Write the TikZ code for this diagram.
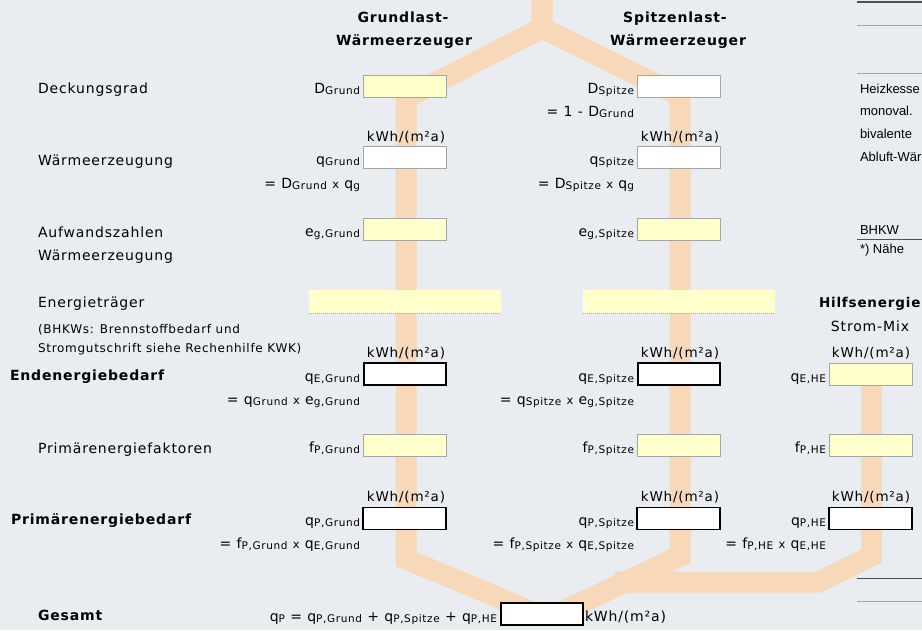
\documentclass[tikz,border=0pt]{standalone}
\usepackage{fontspec}
\setmainfont{DejaVu Sans}[LetterSpace=6]
\newfontfamily\arialfont{Liberation Sans}
\definecolor{bg}{RGB}{233,237,241}
\definecolor{band}{RGB}{247,216,184}
\definecolor{yfill}{RGB}{255,255,204}
\definecolor{gborder}{RGB}{165,165,165}
\definecolor{dline}{RGB}{80,80,80}
\newcommand\sbx[1]{\raisebox{-1.5pt}{\fontsize{10.5}{10.5}\selectfont #1}}
\newcommand\tms{{\fontsize{11.5}{11.5}\selectfont x}}
\begin{document}
\begin{tikzpicture}[x=1pt,y=-1pt,
  every node/.style={inner sep=0pt,outer sep=0pt},
  ybox/.style={draw=gborder,fill=yfill,line width=1pt,minimum width=83pt,minimum height=22pt},
  wbox/.style={draw=gborder,fill=white,line width=1pt,minimum width=83pt,minimum height=22pt},
  kbox/.style={draw=black,fill=white,line width=1.2pt,minimum width=83pt,minimum height=22pt},
  tbox/.style={draw=black,fill=white,line width=2pt,minimum width=82pt,minimum height=22pt},
  etbar/.style={fill=yfill,minimum width=192pt,minimum height=23pt},
  bandline/.style={band,line width=21pt,line join=miter},
  txt/.style={font=\fontsize{14}{16}\selectfont},
  btxt/.style={font=\fontsize{14}{16}\selectfont\bfseries},
  stxt/.style={font=\fontsize{12}{14}\selectfont},
  rtxt/.style={font=\arialfont\fontsize{13}{15}\selectfont,anchor=base west},
  lab/.style={txt,anchor=base east},
  unit/.style={font=\fontsize{13.5}{16}\selectfont,anchor=base}
]
\useasboundingbox (0,0) rectangle (922,630);
\fill[bg] (0,0) rectangle (922,630);
% band coordinates
\coordinate (btop) at (542,-5);
\coordinate (bsplit) at (542,28);
\coordinate (bL1) at (406,98);
\coordinate (bL2) at (406,559);
\coordinate (bLend) at (535,613);
\coordinate (bR1) at (680,96);
\coordinate (bR2) at (680,556);
\coordinate (bRend) at (555,615);
\coordinate (bH1) at (871.5,380);
\coordinate (bH2) at (871.5,556);
\coordinate (bH3) at (819,582);
\coordinate (bH4) at (615,582);
\begin{scope}
\clip (0,0) rectangle (922,630);
\draw[bandline] (btop) -- (bsplit) -- (bL1) -- (bL2) -- (bLend);
\draw[bandline] (bsplit) -- (bR1) -- (bR2) -- (bRend);
\draw[bandline] (bH1) -- (bH2) -- (bH3) -- (bH4);
\end{scope}
% titles
\node[btxt,anchor=base] (t1a) at (403,22) {Grundlast-};
\node[btxt,anchor=base] (t1b) at (404,45) {Wärmeerzeuger};
\node[btxt,anchor=base] (t2a) at (675,22) {Spitzenlast-};
\node[btxt,anchor=base] (t2b) at (678,45) {Wärmeerzeuger};
% left labels
\node[txt,anchor=base west] (l1) at (38,93) {Deckungsgrad};
\node[txt,anchor=base west] (l2) at (38,165) {Wärmeerzeugung};
\node[txt,anchor=base west] (l3a) at (38,237) {Aufwandszahlen};
\node[txt,anchor=base west] (l3b) at (38,260) {Wärmeerzeugung};
\node[txt,anchor=base west] (l4) at (38,307) {Energieträger};
\node[stxt,anchor=base west] (l4a) at (38,333) {(BHKWs: Brennstoffbedarf und};
\node[stxt,anchor=base west] (l4b) at (38,352) {Stromgutschrift siehe Rechenhilfe KWK)};
\node[btxt,anchor=base west] (l5) at (10,380) {Endenergiebedarf};
\node[txt,anchor=base west] (l6) at (38,453) {Primärenergiefaktoren};
\node[btxt,anchor=base west] (l7) at (11,524) {Primärenergiebedarf};
\node[btxt,anchor=base west] (l8) at (38,620) {Gesamt};
% Grund column
\node[ybox] (dG) at (404.5,86.5) {};
\node[wbox] (qG) at (404.5,157.5) {};
\node[ybox] (eG) at (404.5,229.5) {};
\node[etbar] (etG) at (405,301.5) {};
\node[tbox] (qEG) at (404.5,374) {};
\node[ybox] (fG) at (404.5,445.5) {};
\node[kbox] (qPG) at (404.5,518.5) {};
% Spitze column
\node[wbox] (dS) at (678.5,86.5) {};
\node[wbox] (qS) at (678.5,157.5) {};
\node[ybox] (eS) at (678.5,229.5) {};
\node[etbar] (etS) at (679,301.5) {};
\node[tbox] (qES) at (678.5,374) {};
\node[ybox] (fS) at (678.5,445.5) {};
\node[kbox] (qPS) at (678.5,518.5) {};
% HE column
\node[ybox] (qEH) at (870.5,374) {};
\node[ybox] (fH) at (870.5,445.5) {};
\node[kbox] (qPH) at (870.5,518.5) {};
% total
\node[tbox] (qP) at (541.5,614) {};
% dotted bottoms of Energietraeger bars
\draw[gborder,densely dotted,line width=1pt] (etG.south west) -- (etG.south east);
\draw[gborder,densely dotted,line width=1pt] (etS.south west) -- (etS.south east);
% symbol labels
\node[lab] (sdG) at (360,93) {D\sbx{Grund}};
\node[lab] (sqG) at (360,164) {q\sbx{Grund}};
\node[lab] (seG) at (360,236) {e\sbx{g,Grund}};
\node[lab] (sqEG) at (360,381) {q\sbx{E,Grund}};
\node[lab] (sfG) at (360,452) {f\sbx{P,Grund}};
\node[lab] (sqPG) at (360,525) {q\sbx{P,Grund}};
\node[lab] (sdS) at (634,93) {D\sbx{Spitze}};
\node[lab] (sqS) at (634,164) {q\sbx{Spitze}};
\node[lab] (seS) at (634,236) {e\sbx{g,Spitze}};
\node[lab] (sqES) at (634,381) {q\sbx{E,Spitze}};
\node[lab] (sfS) at (634,452) {f\sbx{P,Spitze}};
\node[lab] (sqPS) at (634,525) {q\sbx{P,Spitze}};
\node[lab] (sqEH) at (826,381) {q\sbx{E,HE}};
\node[lab] (sfH) at (826,452) {f\sbx{P,HE}};
\node[lab] (sqPH) at (826,525) {q\sbx{P,HE}};
% formulas
\node[lab] (f1) at (634,116) {= 1 - D\sbx{Grund}};
\node[lab] (f2) at (360,188) {= D\sbx{Grund} \tms{} q\sbx{g}};
\node[lab] (f3) at (634,188) {= D\sbx{Spitze} \tms{} q\sbx{g}};
\node[lab] (f4) at (360,404) {= q\sbx{Grund} \tms{} e\sbx{g,Grund}};
\node[lab] (f5) at (634,404) {= q\sbx{Spitze} \tms{} e\sbx{g,Spitze}};
\node[lab] (f6) at (360,548) {= f\sbx{P,Grund} \tms{} q\sbx{E,Grund}};
\node[lab] (f7) at (634,548) {= f\sbx{P,Spitze} \tms{} q\sbx{E,Spitze}};
\node[lab] (f8) at (826,548) {= f\sbx{P,HE} \tms{} q\sbx{E,HE}};
\node[lab] (f9) at (497,621) {q\sbx{P} = q\sbx{P,Grund} + q\sbx{P,Spitze} + q\sbx{P,HE}};
% units
\node[unit] (u1) at (406,141) {kWh/(m²a)};
\node[unit] (u2) at (680,141) {kWh/(m²a)};
\node[unit] (u3) at (406,357) {kWh/(m²a)};
\node[unit] (u4) at (680,357) {kWh/(m²a)};
\node[unit] (u5) at (871,357) {kWh/(m²a)};
\node[unit] (u6) at (406,501) {kWh/(m²a)};
\node[unit] (u7) at (680,501) {kWh/(m²a)};
\node[unit] (u8) at (871,501) {kWh/(m²a)};
\node[txt,anchor=base west] (u9) at (585,621) {kWh/(m²a)};
% Hilfsenergie
\node[font=\fontsize{13.5}{16}\selectfont\bfseries,anchor=base west] (hE) at (819,307) {Hilfsenergie};
\node[txt,anchor=base] (hM) at (870,331) {Strom-Mix};
% right side table fragment
\draw[dline,line width=1.5pt] (857,2) -- (922,2);
\draw[gborder,line width=1pt] (857,25) -- (922,25);
\draw[gborder,line width=1pt] (857,73) -- (922,73);
\draw[dline,line width=1pt] (857,239) -- (922,239);
\draw[dline,line width=1pt] (857,578) -- (922,578);
\draw[gborder,line width=1pt] (857,601) -- (922,601);
\node[rtxt] (r1) at (860,93) {Heizkesse};
\node[rtxt] (r2) at (860,115) {monoval.};
\node[rtxt] (r3) at (860,138) {bivalente};
\node[rtxt] (r4) at (860,161) {Abluft-Wär};
\node[rtxt] (r5) at (860,234) {BHKW};
\node[rtxt] (r6) at (860,253) {*) Nähe};
\end{tikzpicture}
\end{document}
